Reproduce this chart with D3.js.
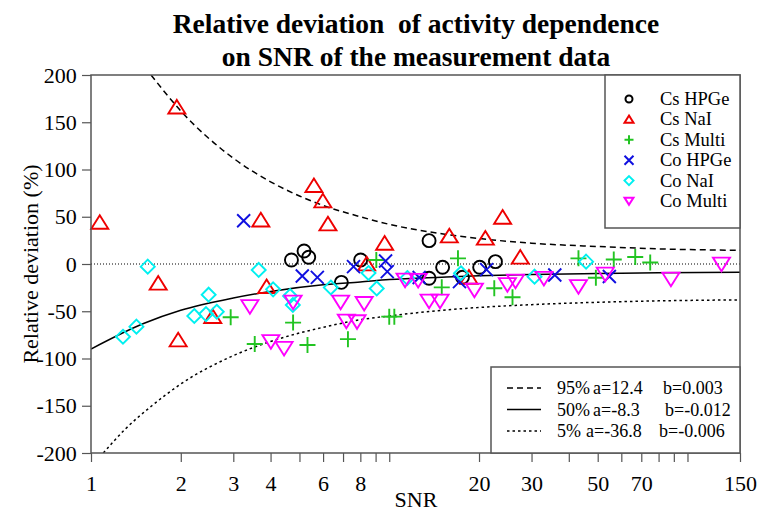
<!DOCTYPE html>
<html>
<head>
<meta charset="utf-8">
<script src="https://cdn.jsdelivr.net/npm/d3@7/dist/d3.min.js"></script>
<style>
  body { margin: 0; background: #fff; }
  svg { font-family: 'Liberation Serif', 'DejaVu Serif', serif; }
</style>
</head>
<body>
<svg id="chart" width="757" height="512"></svg>
<script>
// measurement data: [SNR, relative deviation %]
const csHPGe = [[4.70, 4.2], [5.18, 13.8], [5.37, 7.1], [8.02, 4.2], [6.91, -19.4], [13.6, 24.7],
  [15.1, -3.5], [13.6, -15.1], [17.6, -14.1], [20.1, -3.5], [22.7, 2.5]];
const csNaI = [[1.07, 44], [1.94, 166], [1.68, -20.4], [1.96, -80.4], [2.56, -55.7], [3.71, 46.5],
  [3.88, -24], [5.59, 82.9], [5.99, 66.7], [6.23, 42.3], [9.65, 21.9], [8.4, 0], [15.9, 29.6],
  [21.0, 27.2], [24.0, 49.4], [27.5, 7.1], [18.5, -14.1]];
const csMulti = [[2.94, -56.4], [3.54, -84.7], [4.76, -62], [5.32, -85.7], [7.27, -79.5], [10.0, -55.7],
  [10.4, -55.7], [9.05, 4.2], [17.0, 6], [15.0, -24.7], [22.5, -25.7], [25.9, -35.2], [43.1, 6],
  [49.3, -14.5], [56.6, 4.7], [66.8, 7.4], [75, 1.6]];
const coHPGe = [[3.25, 45.8], [5.11, -12.7], [5.74, -14.1], [7.59, -2.8], [9.72, 3.2], [9.85, -8.1],
  [12.6, -14.3], [17.2, -18.7], [21.2, -5.9], [35.9, -11.6], [54.7, -13.2]];
const coNaI = [[1.55, -2.8], [1.28, -77], [1.42, -66.3], [2.22, -55], [2.43, -53], [2.64, -50.5],
  [2.48, -32.5], [3.65, -6.3], [4.08, -26.8], [4.65, -33.9], [4.75, -43.4], [6.37, -24.9],
  [8.52, -9.5], [9.08, -25.9], [11.5, -14.8], [17.4, -9.8], [30.7, -13.4], [45.7, 2.5]];
const coMulti = [[3.41, -45], [4.76, -40.2], [4.01, -82], [4.44, -89.2], [6.87, -40.2], [8.24, -41.6],
  [7.18, -60.3], [7.8, -61], [11.3, -16.9], [12.5, -17.2], [13.6, -39.2], [14.8, -39.2], [19.3, -27.5],
  [24.9, -21.7], [26.5, -18], [33.0, -15.1], [43.1, -23.8], [53.0, -10.6], [88.0, -15.9], [130, 0]];

// fitted percentile curves
const fit95 = [[1.59, 200], [2, 162], [3, 112], [4, 87], [5, 72], [6, 62], [8, 50], [10, 42], [15, 32],
  [20, 27], [30, 22], [50, 18.5], [80, 16], [150, 14.5]];
const fit50 = [[1, -90], [1.5, -63], [2, -49], [3, -36], [4, -29], [6, -22], [8, -19], [10, -16.5],
  [15, -14], [20, -12.5], [30, -11], [50, -10], [80, -9.3], [150, -8.8]];
const fit5 = [[1.1, -200], [1.3, -175], [1.6, -150], [2, -127], [3, -97], [4, -82], [6, -67], [8, -59],
  [10, -55], [15, -49], [20, -46], [30, -43], [50, -40.5], [80, -39], [150, -38]];

const xTicks = [1, 2, 3, 4, 5, 6, 7, 8, 9, 10, 20, 30, 40, 50, 60, 70, 80, 90, 100, 150];
const xLabels = [1, 2, 3, 4, 6, 8, 20, 30, 50, 70, 150];
const yTicks = [-200, -150, -100, -50, 0, 50, 100, 150, 200];

const seriesNames = ['Cs HPGe', 'Cs NaI', 'Cs Multi', 'Co HPGe', 'Co NaI', 'Co Multi'];
const fitLabels = [['95%', 'a=12.4', 'b=0.003'], ['50%', 'a=-8.3', 'b=-0.012'], ['5%', 'a=-36.8', 'b=-0.006']];

const series = [
  { data: csHPGe, shape: 'circle', color: '#000000' },
  { data: csNaI, shape: 'tri', color: '#ee0000' },
  { data: csMulti, shape: 'plus', color: '#22c422' },
  { data: coHPGe, shape: 'cross', color: '#1010e0' },
  { data: coNaI, shape: 'diamond', color: '#00f0f0' },
  { data: coMulti, shape: 'itri', color: '#ff00ff' },
];

const svg = d3.select('#chart');
const pLeft = 91, pRight = 740, pTop = 75, pBottom = 453;
const x = d3.scaleLog().domain([1, 150]).range([pLeft, pRight]);
const y = d3.scaleLinear().domain([-200, 200]).range([pBottom, pTop]);
const axisColor = '#555';
const serif = "'Liberation Serif', 'DejaVu Serif', serif";

// marker path centred on 0,0, size s = half width
function shapePath(shape, s) {
  switch (shape) {
    case 'circle': return `M${s},0A${s},${s} 0 1,1 ${-s},0A${s},${s} 0 1,1 ${s},0Z`;
    case 'tri': return `M0,${-s * 0.85}L${s},${s * 0.75}L${-s},${s * 0.75}Z`;
    case 'itri': return `M0,${s * 0.85}L${s},${-s * 0.75}L${-s},${-s * 0.75}Z`;
    case 'plus': return `M${-s},0H${s}M0,${-s}V${s}`;
    case 'cross': return `M${-s},${-s}L${s},${s}M${-s},${s}L${s},${-s}`;
    case 'diamond': return `M0,${-s}L${s},0L0,${s}L${-s},0Z`;
  }
}
const markerSize = { circle: 6.5, tri: 8.5, itri: 8.5, plus: 8, cross: 6.5, diamond: 7 };

svg.append('clipPath').attr('id', 'plotClip')
  .append('rect').attr('x', pLeft).attr('y', pTop).attr('width', pRight - pLeft).attr('height', pBottom - pTop);

// title
const title = svg.append('text').attr('text-anchor', 'middle').attr('font-weight', 'bold')
  .attr('font-family', serif).attr('font-size', 27.5).attr('fill', '#000');
title.append('tspan').attr('x', 416).attr('y', 33).text('Relative deviation\u00a0 of activity dependence');
title.append('tspan').attr('x', 416).attr('y', 66).text('on SNR of the measurement data');

// zero line
svg.append('line').attr('x1', pLeft).attr('x2', pRight).attr('y1', y(0)).attr('y2', y(0))
  .attr('stroke', '#000').attr('stroke-width', 1).attr('stroke-dasharray', '1,2');

// fit curves
const line = d3.line().x(d => x(d[0])).y(d => y(d[1])).curve(d3.curveMonotoneX);
const curves = [
  { data: fit95, dash: '6,4' },
  { data: fit50, dash: null },
  { data: fit5, dash: '2.5,3' },
];
curves.forEach(c => {
  svg.append('path').attr('d', line(c.data)).attr('fill', 'none').attr('stroke', '#000')
    .attr('stroke-width', 1.5).attr('stroke-dasharray', c.dash).attr('clip-path', 'url(#plotClip)');
});

// data points
series.forEach(s => {
  svg.append('g').selectAll('path').data(s.data).join('path')
    .attr('transform', d => `translate(${x(d[0])},${y(d[1])})`)
    .attr('d', shapePath(s.shape, markerSize[s.shape]))
    .attr('fill', 'none').attr('stroke', s.color).attr('stroke-width', 1.9);
});

// axes
const xAxis = d3.axisBottom(x).tickValues(xTicks).tickSizeOuter(0).tickSize(9)
  .tickFormat(d => xLabels.includes(d) ? String(d) : '');
const yAxis = d3.axisLeft(y).tickValues(yTicks).tickSizeOuter(0).tickSize(9)
  .tickFormat(d => String(d));

const gx = svg.append('g').attr('transform', `translate(0,${pBottom})`).call(xAxis);
const gy = svg.append('g').attr('transform', `translate(${pLeft},0)`).call(yAxis);
[gx, gy].forEach(g => {
  g.attr('font-family', serif).attr('font-size', 22);
  g.select('.domain').remove();
  g.selectAll('line').attr('stroke', axisColor).attr('stroke-width', 1.2);
  g.selectAll('text').attr('fill', '#000');
});
gx.selectAll('text').attr('dy', '1.2em');
gy.selectAll('text').attr('dx', '-0.1em');

// plot frame
svg.append('rect').attr('x', pLeft).attr('y', pTop).attr('width', pRight - pLeft).attr('height', pBottom - pTop)
  .attr('fill', 'none').attr('stroke', axisColor).attr('stroke-width', 1.5);

// axis titles
svg.append('text').attr('x', 416).attr('y', 507).attr('text-anchor', 'middle')
  .attr('font-family', serif).attr('font-size', 22).text('SNR');
svg.append('text').attr('transform', 'translate(38,264) rotate(-90)').attr('text-anchor', 'middle')
  .attr('font-family', serif).attr('font-size', 22).text('Relative deviation (%)');

// series legend
const lg = svg.append('g').attr('font-family', serif);
lg.append('rect').attr('x', 605).attr('y', pTop).attr('width', pRight - 605).attr('height', 228 - pTop)
  .attr('fill', '#fff').attr('stroke', axisColor).attr('stroke-width', 1.5);
series.forEach((s, i) => {
  const cy = 99 + i * 20.4;
  lg.append('path').attr('transform', `translate(629,${cy})`)
    .attr('d', shapePath(s.shape, s.shape === 'circle' ? 3.5 : 4.5))
    .attr('fill', 'none').attr('stroke', s.color).attr('stroke-width', 2);
  lg.append('text').attr('x', 660).attr('y', cy + 6).attr('font-size', 18.5).text(seriesNames[i]);
});

// fit legend
const fg = svg.append('g').attr('font-family', serif);
fg.append('rect').attr('x', 491).attr('y', 367).attr('width', pRight - 491).attr('height', pBottom - 367)
  .attr('fill', '#fff').attr('stroke', axisColor).attr('stroke-width', 1.5);
const aX = [593, 593, 586], bX = [663, 665, 659];
curves.forEach((c, i) => {
  const cy = 388 + i * 21.5;
  fg.append('line').attr('x1', 507).attr('x2', 541).attr('y1', cy).attr('y2', cy)
    .attr('stroke', '#000').attr('stroke-width', 1.5).attr('stroke-dasharray', c.dash);
  fg.append('text').attr('x', 557).attr('y', cy + 6).attr('font-size', 18).text(fitLabels[i][0]);
  fg.append('text').attr('x', aX[i]).attr('y', cy + 6).attr('font-size', 18).text(fitLabels[i][1]);
  fg.append('text').attr('x', bX[i]).attr('y', cy + 6).attr('font-size', 18).text(fitLabels[i][2]);
});
</script>
</body>
</html>
